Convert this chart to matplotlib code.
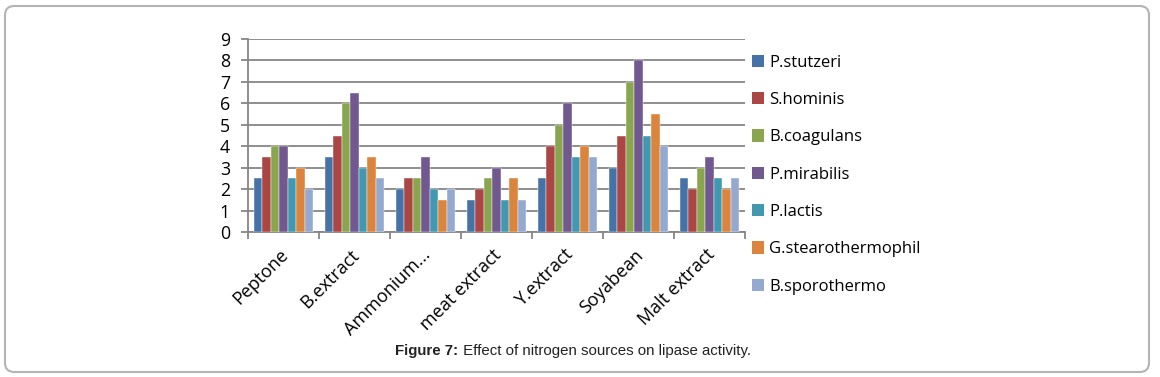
import numpy as np
import matplotlib
matplotlib.use("Agg")
import matplotlib.pyplot as plt
import matplotlib.transforms as mtransforms
from matplotlib.patches import FancyBboxPatch, Patch

sources = ["Peptone", "B.extract", "Ammonium...", "meat extract",
           "Y.extract", "Soyabean", "Malt extract"]
strains = ["P.stutzeri", "S.hominis", "B.coagulans", "P.mirabilis",
           "P.lactis", "G.stearothermophil", "B.sporothermo"]

p_stutzeri = [2.5, 3.5, 2.0, 1.5, 2.5, 3.0, 2.5]
s_hominis = [3.5, 4.5, 2.5, 2.0, 4.0, 4.5, 2.0]
b_coagulans = [4.0, 6.0, 2.5, 2.5, 5.0, 7.0, 3.0]
p_mirabilis = [4.0, 6.5, 3.5, 3.0, 6.0, 8.0, 3.5]
p_lactis = [2.5, 3.0, 2.0, 1.5, 3.5, 4.5, 2.5]
g_stearo = [3.0, 3.5, 1.5, 2.5, 4.0, 5.5, 2.0]
b_sporo = [2.0, 2.5, 2.0, 1.5, 3.5, 4.0, 2.5]

series = [p_stutzeri, s_hominis, b_coagulans, p_mirabilis, p_lactis, g_stearo, b_sporo]
colors = ["#4572A7", "#AA4643", "#89A54E", "#71588F", "#4198AF", "#DB843D", "#93A9CF"]

label_font = ["Open Sans", "DejaVu Sans"]
cap_font = ["Liberation Sans Narrow", "Liberation Sans", "DejaVu Sans"]

fig = plt.figure(figsize=(11.6, 3.77), dpi=100)
ax = fig.add_axes([248 / 1160, 1 - 232 / 377, (745 - 248) / 1160, (232 - 39) / 377])

# bars: 7 per category, small gap between groups
x = np.arange(len(sources))
bw = 0.83 / len(series)
for i, vals in enumerate(series):
    off = (i - (len(series) - 1) / 2) * bw
    ax.bar(x + off, vals, width=bw, color=colors[i], edgecolor="#ffffff",
           linewidth=0.3, zorder=3)

ax.set_xlim(-0.5, len(sources) - 0.5)
ax.set_ylim(0, 9)
ax.set_yticks(range(0, 10))
ax.yaxis.grid(True, color="#868686", linewidth=1.3, zorder=0)
ax.set_axisbelow(True)

for s in ["top", "right"]:
    ax.spines[s].set_visible(False)
for s in ["left", "bottom"]:
    ax.spines[s].set_color("#868686")
    ax.spines[s].set_linewidth(1.3)

ax.tick_params(axis="y", length=5, width=1.3, color="#868686", pad=8,
               labelsize=12.8)
for t in ax.get_yticklabels():
    t.set_fontfamily(label_font)

# category ticks at boundaries, labels at centers
ax.set_xticks(np.arange(len(sources) + 1) - 0.5)
ax.set_xticklabels([])
ax.tick_params(axis="x", length=5, width=1.3, color="#868686")
ax.set_xticks(x, minor=True)
ax.set_xticklabels(sources, minor=True, rotation=45, ha="right",
                   rotation_mode="anchor", family=label_font, fontsize=13)
ax.tick_params(axis="x", which="minor", length=0, pad=10)
shift = mtransforms.ScaledTranslation(-4 / 100, 0, fig.dpi_scale_trans)
for t in ax.get_xticklabels(minor=True):
    t.set_transform(t.get_transform() + shift)

handles = [Patch(facecolor=c, edgecolor="none") for c in colors]
fig.legend(handles, strains, loc="upper left", bbox_to_anchor=(745 / 1160, 1 - 48 / 377),
           frameon=False, prop={"family": label_font, "size": 12},
           handlelength=0.75, handleheight=0.75, handletextpad=0.3,
           labelspacing=1.28, borderaxespad=0)

# caption
fig.canvas.draw()
r = fig.canvas.get_renderer()
t1 = fig.text(0, 1 - 351 / 377, "Figure 7:", fontsize=10.8, fontweight="bold",
              family=cap_font, va="center", color="#222222")
t2 = fig.text(0, 1 - 351 / 377, " Effect of nitrogen sources on lipase activity.",
              fontsize=10.8, family=cap_font, va="center", color="#222222")
w1 = t1.get_window_extent(r).width
w2 = t2.get_window_extent(r).width
start = 573 - (w1 + w2) / 2
t1.set_x(start / 1160)
t2.set_x((start + w1) / 1160)

box = FancyBboxPatch((5 / 1160, 5 / 377), 1144 / 1160, 366 / 377,
                     boxstyle="round,pad=0,rounding_size=0.008",
                     transform=fig.transFigure, facecolor="none",
                     edgecolor="#b4b4b4", linewidth=1.5, mutation_aspect=1160 / 377)
fig.patches.append(box)

fig.savefig("out.png", dpi=100)
